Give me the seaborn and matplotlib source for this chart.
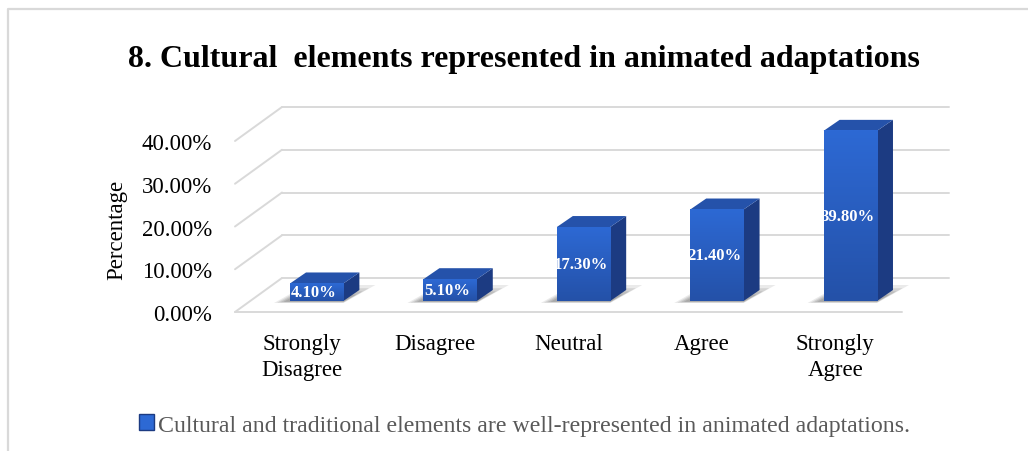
import numpy as np
import pandas as pd
import matplotlib
matplotlib.use("Agg")
import matplotlib.pyplot as plt
import matplotlib.transforms as mtransforms
from matplotlib.patches import Polygon, Patch
from matplotlib.lines import Line2D
from matplotlib.colors import LinearSegmentedColormap
import seaborn as sns

# ---- data -------------------------------------------------------------
categories = ["Strongly\nDisagree", "Disagree", "Neutral", "Agree", "Strongly\nAgree"]
percentages = [4.1, 5.1, 17.3, 21.4, 39.8]
y_ticks = [0, 10, 20, 30, 40]
y_tick_labels = ["0.00%", "10.00%", "20.00%", "30.00%", "40.00%"]
series_name = "Cultural and traditional elements are well-represented in animated adaptations."
chart_title = "8. Cultural  elements represented in animated adaptations"
y_title = "Percentage"

# ---- figure / plot-area geometry (pixels) -----------------------------
W, H, DPI = 1028, 452, 100
AX_L, AX_R, AX_B, AX_T = 233, 950, 313, 100
FLOOR_L, FLOOR_R = 235, 902          # front edge of the floor
Y40_PX = 142                          # pixel row of the 40 % tick on the front plane
WALL_DX, WALL_DY = 47, 34             # depth of the 3-D box
BAR_DX, BAR_DY = 15, 11               # bars sit in the middle of the depth
BAR_DEPTH_X, BAR_DEPTH_Y = 16, 11     # depth of each bar

FRONT_TOP, FRONT_BOT = "#2D69D4", "#2451A8"
SIDE_COLOR = "#1C3B82"
TOP_COLOR = "#2552AA"
GRID_COLOR = "#D9D9D9"

sns.set_theme(style="white")
plt.rcParams["font.family"] = ["Liberation Serif", "DejaVu Serif"]

fig = plt.figure(figsize=(W / DPI, H / DPI), dpi=DPI)
fig.patch.set_facecolor("white")
ax = fig.add_axes([AX_L / W, 1 - AX_B / H, (AX_R - AX_L) / W, (AX_B - AX_T) / H])

df = pd.DataFrame({"category": categories, "value": percentages})
sns.barplot(data=df, x="category", y="value", width=0.4, color=FRONT_BOT,
            saturation=1, edgecolor="none", linewidth=0, ax=ax, zorder=5)

# data <-> pixel scale
sx = (FLOOR_R - FLOOR_L) / len(categories)
sy = (AX_B - Y40_PX) / 40.0
x0_lim = -0.5 - (FLOOR_L - AX_L) / sx
xlim = (x0_lim, x0_lim + (AX_R - AX_L) / sx)
ylim = (0, (AX_B - AX_T) / sy)
for s in ax.spines.values():
    s.set_visible(False)
ax.set_facecolor("none")


def px(dx, dy):
    """pixel offset -> data offset"""
    return dx / sx, dy / sy


# ---- 3-D walls: back gridlines, side-wall diagonals, floor edge --------
wdx, wdy = px(WALL_DX, WALL_DY)
xl, xr = -0.5, len(categories) - 0.5
for t in y_ticks:
    ax.add_line(Line2D([xl + wdx, xr + wdx], [t + wdy, t + wdy], color=GRID_COLOR,
                       lw=1.4, zorder=1, clip_on=False))
    ax.add_line(Line2D([xl, xl + wdx], [t, t + wdy], color=GRID_COLOR, lw=1.4,
                       zorder=1, clip_on=False))
ax.add_line(Line2D([xl, xr], [0, 0], color=GRID_COLOR, lw=1.4, zorder=1, clip_on=False))

# ---- 3-D bars -----------------------------------------------------------
bar_shift = mtransforms.ScaledTranslation(BAR_DX / DPI, BAR_DY / DPI, fig.dpi_scale_trans)
bar_trans = ax.transData + bar_shift
bdx, bdy = px(BAR_DEPTH_X, BAR_DEPTH_Y)
front_cmap = LinearSegmentedColormap.from_list("front", [FRONT_BOT, FRONT_TOP])
grad = np.linspace(0, 1, 128).reshape(-1, 1)

for p, v in zip(ax.patches, percentages):
    p.set_transform(bar_trans)
    x0, w, h = p.get_x(), p.get_width(), p.get_height()

    # soft floor shadow, built up from a few translucent layers
    for k, a in enumerate([0.14, 0.18, 0.22, 0.26]):
        g = 1 - k * 0.2
        sdx0, sdy0 = px(-16 * g, -2 * g)
        sdx1, sdy1 = px(32 * g, 16 * g)
        ax.add_patch(Polygon([(x0 + sdx0, sdy0), (x0 + w, sdy0),
                              (x0 + w + sdx1, sdy1), (x0 + sdx1 * 0.5, sdy1)],
                             closed=True, facecolor="#6F6F6F", edgecolor="none",
                             alpha=a, transform=bar_trans, zorder=3))

    # front face gradient
    im = ax.imshow(grad, cmap=front_cmap, origin="lower", aspect="auto",
                   extent=[x0, x0 + w, 0, h], zorder=5.5, interpolation="bilinear")
    im.set_transform(bar_trans)

    # right side face
    ax.add_patch(Polygon([(x0 + w, 0), (x0 + w + bdx, bdy), (x0 + w + bdx, h + bdy),
                          (x0 + w, h)], closed=True, facecolor=SIDE_COLOR,
                         edgecolor="none", transform=bar_trans, zorder=5))
    # top face
    ax.add_patch(Polygon([(x0, h), (x0 + w, h), (x0 + w + bdx, h + bdy), (x0 + bdx, h + bdy)],
                         closed=True, facecolor=TOP_COLOR, edgecolor="none",
                         transform=bar_trans, zorder=5))

    # value label
    ax.text(x0 + w / 2 - 0.02, h / 2, f"{v:.2f}%", transform=bar_trans,
            ha="center", va="center", color="white", fontsize=12,
            fontweight="bold", zorder=7)

ax.set_xlim(*xlim)
ax.set_ylim(*ylim)

# ---- axes text -----------------------------------------------------------
ax.set_yticks(y_ticks, y_tick_labels)
ax.set_xticks(range(len(categories)), categories)
ax.tick_params(axis="y", length=0, pad=15, labelsize=16.5, labelcolor="black")
ax.tick_params(axis="x", length=0, pad=15, labelsize=16.5, labelcolor="black")
for lab in ax.get_xticklabels():
    lab.set_linespacing(1.35)
ax.set_xlabel("")
ax.set_ylabel("")
fig.text(117 / W, 1 - 230 / H, y_title, rotation=90, ha="center", va="center",
         fontsize=16.5, color="black")

fig.text(524 / W, 1 - 60 / H, chart_title, ha="center", va="center",
         fontsize=23, fontweight="bold", color="black")

fig.legend(handles=[Patch(facecolor=FRONT_TOP, edgecolor=SIDE_COLOR, label=series_name)],
           loc="center", bbox_to_anchor=(525 / W, 1 - 426 / H), frameon=False,
           fontsize=17.2, labelcolor="#595959", handlelength=0.6, handleheight=0.6,
           handletextpad=0.2, borderpad=0)

# chart frame
fig.add_artist(Line2D([8 / W, 8 / W, 1.0], [0.0, 1 - 10 / H, 1 - 10 / H],
                      transform=fig.transFigure, color=GRID_COLOR, lw=1.6))

fig.savefig("out.png", dpi=DPI, facecolor="white")
